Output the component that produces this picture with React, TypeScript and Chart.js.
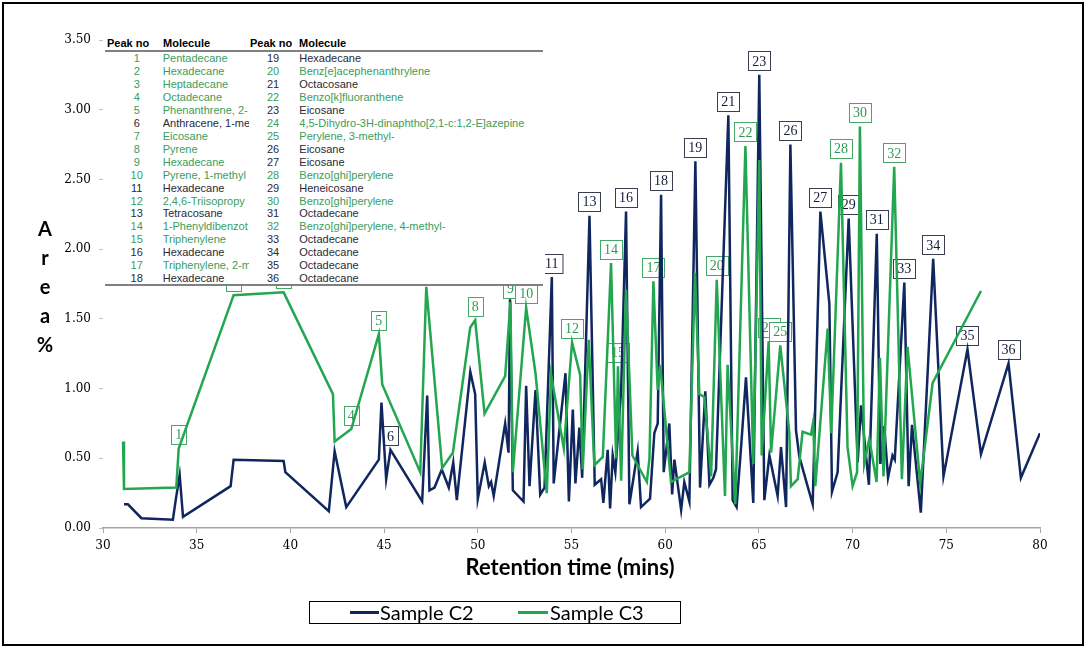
import React, { useEffect, useRef } from "react";
import { Chart, registerables } from "chart.js";

Chart.register(...registerables);

// ---------- DATA ----------
const c2X = [
  31.12, 31.33, 32.05, 33.73, 33.88, 34.09, 34.27, 36.81, 36.97, 39.64,
  39.73, 42.05, 42.36, 42.98, 44.72, 44.86, 45.11, 45.34, 47.03, 47.3,
  47.42, 47.69, 48.08, 48.45, 48.69, 48.88, 49.6, 49.86, 50.0, 50.37,
  50.59, 50.71, 50.85, 51.46, 51.64, 51.72, 51.87, 52.44, 52.58, 52.76,
  53.08, 53.33, 53.56, 53.95, 54.05, 54.68, 54.86, 55.07, 55.21, 55.42,
  55.57, 55.96, 56.24, 56.58, 56.7, 56.93, 57.06, 57.2, 57.34, 57.65,
  57.91, 58.09, 58.53, 58.71, 59.19, 59.42, 59.6, 59.78, 59.92, 60.22,
  60.37, 60.49, 60.85, 61.02, 61.29, 61.61, 61.86, 62.14, 62.36, 62.57,
  62.71, 63.37, 63.6, 63.81, 64.06, 64.31, 64.7, 65.02, 65.29, 65.56,
  66.0, 66.18, 66.45, 66.68, 66.98, 67.16, 67.87, 68.28, 68.76, 68.9,
  69.2, 69.79, 70.27, 70.45, 70.87, 71.29, 71.48, 71.69, 71.89, 72.13,
  72.25, 72.76, 72.99, 73.17, 73.64, 74.3, 74.85, 76.13, 76.85, 78.32,
  78.98, 80.0,
];
const c2Y = [
  0.17, 0.17, 0.07, 0.06, 0.2, 0.38, 0.08, 0.3, 0.49, 0.48,
  0.4, 0.12, 0.55, 0.15, 0.49, 0.9, 0.35, 0.56, 0.19, 0.95,
  0.27, 0.29, 0.42, 0.29, 0.47, 0.2, 1.12, 0.96, 0.21, 0.47,
  0.3, 0.33, 0.23, 0.75, 0.54, 1.64, 0.27, 0.19, 1.02, 0.3,
  0.99, 0.24, 0.29, 1.8, 0.32, 1.11, 0.19, 0.85, 0.32, 0.72,
  0.36, 2.24, 0.31, 0.35, 0.18, 0.56, 0.14, 0.52, 0.4, 0.99,
  2.27, 0.17, 0.55, 0.15, 0.21, 0.68, 0.75, 2.39, 0.4, 0.75,
  0.24, 0.49, 0.13, 0.33, 0.19, 2.63, 0.29, 0.98, 0.31, 0.36,
  0.42, 2.96, 0.2, 0.15, 0.6, 1.08, 0.18, 3.25, 0.2, 0.52,
  0.23, 0.58, 0.15, 2.75, 0.7, 0.51, 0.17, 2.27, 1.61, 0.26,
  0.4, 2.22, 0.47, 0.88, 0.31, 2.11, 0.46, 0.73, 0.36, 0.52,
  0.49, 1.76, 0.3, 0.74, 0.11, 1.93, 0.37, 1.28, 0.53, 1.18,
  0.36, 0.68,
];
const c3X = [
  31.07, 31.12, 33.91, 34.04, 36.97, 39.64, 42.27, 42.36, 43.25, 44.72,
  44.9, 46.93, 47.25, 48.1, 48.67, 49.6, 49.86, 50.36, 51.46, 51.74,
  51.87, 52.58, 53.08, 53.68, 53.91, 54.59, 55.03, 55.46, 55.6, 55.92,
  56.22, 56.67, 57.11, 57.38, 57.48, 57.65, 57.91, 58.25, 59.02, 59.16,
  59.37, 59.6, 59.73, 60.31, 61.29, 61.59, 61.82, 62.09, 62.45, 62.75,
  63.19, 63.33, 63.74, 64.28, 64.7, 65.02, 65.15, 65.52, 65.65, 66.14,
  66.62, 66.71, 67.07, 67.33, 67.78, 67.9, 68.01, 68.67, 68.86, 69.38,
  69.73, 70.0, 70.24, 70.39, 70.62, 70.89, 71.28, 71.46, 71.65, 72.22,
  72.63, 72.93, 73.61, 74.27, 76.85,
];
const c3Y = [
  0.62, 0.28, 0.29, 0.57, 1.67, 1.69, 0.96, 0.62, 0.71, 1.39,
  1.03, 0.4, 1.73, 0.43, 0.54, 1.44, 1.49, 0.82, 1.09, 1.62,
  0.4, 1.58, 1.11, 0.25, 1.1, 0.57, 1.33, 1.1, 0.42, 1.35,
  0.45, 0.51, 1.9, 0.5, 1.16, 0.34, 1.71, 0.52, 0.33, 0.5,
  1.77, 0.99, 1.17, 0.33, 0.4, 1.83, 0.96, 0.94, 0.37, 1.78,
  0.23, 1.17, 0.17, 2.74, 0.46, 2.64, 0.52, 1.34, 0.54, 1.31,
  0.69, 0.3, 0.35, 0.69, 0.67, 0.76, 0.3, 1.43, 0.68, 2.62,
  0.58, 0.3, 0.4, 2.88, 0.46, 0.64, 0.33, 1.22, 0.37, 2.59,
  0.35, 1.3, 0.32, 1.04, 1.7,
];

const peakNumbers = [
  1, 2, 3, 4, 5, 6, 7, 8, 9, 10, 11, 12, 13, 14, 15, 16, 17, 18,
  19, 20, 21, 22, 23, 24, 25, 26, 27, 28, 29, 30, 31, 32, 33, 34, 35, 36,
];
const peakSample = [
  "C3", "C3", "C3", "C3", "C3", "C2", "C3", "C3", "C3", "C3", "C2", "C3",
  "C2", "C3", "C3", "C2", "C3", "C2", "C2", "C3", "C2", "C3", "C2", "C3",
  "C3", "C2", "C2", "C3", "C2", "C3", "C2", "C3", "C2", "C2", "C2", "C2",
];
const peakX = [
  34.04, 36.97, 39.64, 43.25, 44.72, 45.34, 47.25, 49.86, 51.74, 52.58,
  53.95, 55.03, 55.96, 57.11, 57.48, 57.91, 59.37, 59.78, 61.61, 62.75,
  63.37, 64.28, 65.02, 65.52, 66.14, 66.68, 68.28, 69.38, 69.79, 70.39,
  71.29, 72.22, 72.76, 74.3, 76.13, 78.32,
];
const moleculeNames = [
  "Pentadecane", "Hexadecane", "Heptadecane", "Octadecane", "Phenanthrene, 2-",
  "Anthracene, 1-me", "Eicosane", "Pyrene", "Hexadecane", "Pyrene, 1-methyl",
  "Hexadecane", "2,4,6-Triisopropy", "Tetracosane", "1-Phenyldibenzot",
  "Triphenylene", "Hexadecane", "Triphenylene, 2-m", "Hexadecane",
  "Hexadecane", "Benz[e]acephenanthrylene", "Octacosane", "Benzo[k]fluoranthene",
  "Eicosane", "4,5-Dihydro-3H-dinaphtho[2,1-c:1,2-E]azepine", "Perylene, 3-methyl-",
  "Eicosane", "Eicosane", "Benzo[ghi]perylene", "Heneicosane", "Benzo[ghi]perylene",
  "Octadecane", "Benzo[ghi]perylene, 4-methyl-", "Octadecane", "Octadecane",
  "Octadecane", "Octadecane",
];
const seriesNames = ["Sample C2", "Sample C3"];
const xTitle = "Retention time (mins)";
const yTitleLetters = ["A", "r", "e", "a", "%"];

// ---------- STYLE ----------
const NAVY = "#10265f";
const GREEN = "#22a64f";
const GREEN_TEXT = "#3a9d5d";
const DARK_TEXT = "#2a2a35";

const peakLabelPlugin = {
  id: "peakLabels",
  beforeDatasetsDraw(chart: any) {
    const { ctx, scales } = chart;
    const xs = scales.x;
    const ys = scales.y;
    ctx.save();
    ctx.font = '14px "Liberation Serif", serif';
    ctx.textAlign = "center";
    ctx.textBaseline = "middle";
    peakNumbers.forEach((n, i) => {
      const isC2 = peakSample[i] === "C2";
      const sx = isC2 ? c2X : c3X;
      const sy = isC2 ? c2Y : c3Y;
      let best = 0;
      let bd = Infinity;
      for (let j = 0; j < sx.length; j++) {
        const d = Math.abs(sx[j] - peakX[i]);
        if (d < bd) {
          bd = d;
          best = j;
        }
      }
      const px = xs.getPixelForValue(sx[best]);
      const py = ys.getPixelForValue(sy[best]);
      const cy = py - 14;
      const text = String(n);
      const w = Math.max(14, ctx.measureText(text).width + 8);
      const h = 19;
      const left = Math.round(px - w / 2) + 0.5;
      const top = Math.round(cy - h / 2) + 0.5;
      ctx.fillStyle = "#ffffff";
      ctx.fillRect(left, top, w, h);
      ctx.lineWidth = 1;
      ctx.strokeStyle = isC2 ? "#3a3d52" : "#45a866";
      ctx.strokeRect(left, top, w, h);
      ctx.fillStyle = isC2 ? "#151b38" : "#2f9a55";
      ctx.fillText(text, px, cy + 1);
    });
    ctx.restore();
  },
};

export default function App() {
  const canvasRef = useRef<HTMLCanvasElement | null>(null);

  useEffect(() => {
    if (!canvasRef.current) return;
    const chart = new Chart(canvasRef.current, {
      type: "line",
      data: {
        datasets: [
          {
            label: seriesNames[0],
            data: c2X.map((x, i) => ({ x, y: c2Y[i] })),
            borderColor: NAVY,
            backgroundColor: NAVY,
            borderWidth: 2.5,
            pointRadius: 0,
            tension: 0,
            fill: false,
            order: 1,
          },
          {
            label: seriesNames[1],
            data: c3X.map((x, i) => ({ x, y: c3Y[i] })),
            borderColor: GREEN,
            backgroundColor: GREEN,
            borderWidth: 2.5,
            pointRadius: 0,
            tension: 0,
            fill: false,
            order: 0,
          },
        ],
      },
      options: {
        responsive: false,
        animation: false,
        layout: { padding: { left: 0, right: 46, top: 40, bottom: 0 } },
        plugins: {
          legend: { display: false },
          tooltip: { enabled: false },
          title: { display: false },
        },
        scales: {
          x: {
            type: "linear",
            min: 30,
            max: 80,
            ticks: {
              stepSize: 5,
              autoSkip: false,
              maxRotation: 0,
              padding: 6,
              color: "#000",
              font: { family: '"DejaVu Serif", serif', size: 12 },
            },
            grid: {
              display: true,
              drawOnChartArea: false,
              drawTicks: true,
              tickLength: 5,
              color: "#a6a6a6",
            },
            border: { display: true, color: "#a6a6a6", width: 1.5 },
            afterFit: (s: any) => {
              s.height = 120;
            },
          },
          y: {
            min: 0,
            max: 3.5,
            ticks: {
              stepSize: 0.5,
              padding: 8,
              color: "#000",
              font: { family: '"DejaVu Serif", serif', size: 12 },
              callback: (v: any) => Number(v).toFixed(2),
            },
            grid: {
              display: true,
              drawOnChartArea: false,
              drawTicks: true,
              tickLength: 4,
              color: "#bfbfbf",
            },
            border: { display: false },
            afterFit: (s: any) => {
              s.width = 103;
            },
          },
        },
      } as any,
      plugins: [peakLabelPlugin],
    });
    return () => chart.destroy();
  }, []);

  const rowTop = (i: number) => 58.7 + i * 12.94 - 6.5;
  const tableFont: React.CSSProperties = {
    position: "absolute",
    fontFamily: '"Liberation Sans", Arial, sans-serif',
    fontSize: 11,
    lineHeight: "13px",
    whiteSpace: "nowrap",
  };

  return (
    <div
      style={{
        position: "absolute",
        left: 0,
        top: 0,
        width: 1086,
        height: 648,
        background: "#ffffff",
        overflow: "hidden",
      }}
    >
      <canvas
        ref={canvasRef}
        width={1086}
        height={648}
        style={{ position: "absolute", left: 0, top: 0, width: 1086, height: 648 }}
      />

      {/* peak table */}
      <div
        style={{
          position: "absolute",
          left: 104,
          top: 37,
          width: 441,
          height: 248,
          background: "#ffffff",
        }}
      />
      <div style={{ ...tableFont, left: 107, top: 37, fontWeight: "bold", color: "#000" }}>Peak no</div>
      <div style={{ ...tableFont, left: 163, top: 37, fontWeight: "bold", color: "#000" }}>Molecule</div>
      <div style={{ ...tableFont, left: 250, top: 37, fontWeight: "bold", color: "#000" }}>Peak no</div>
      <div style={{ ...tableFont, left: 299, top: 37, fontWeight: "bold", color: "#000" }}>Molecule</div>
      <div style={{ position: "absolute", left: 105, top: 50, width: 438, height: 2, background: "#808080" }} />
      <div style={{ position: "absolute", left: 105, top: 284, width: 438, height: 2, background: "#808080" }} />
      {peakNumbers.map((n, i) => {
        const col = i < 18 ? 0 : 1;
        const r = i % 18;
        const color = peakSample[i] === "C3" ? GREEN_TEXT : DARK_TEXT;
        const numCenter = col === 0 ? 136.7 : 273;
        const molLeft = col === 0 ? 162.7 : 299.3;
        return (
          <React.Fragment key={n}>
            <div
              style={{
                ...tableFont,
                left: numCenter - 15,
                width: 30,
                textAlign: "center",
                top: rowTop(r),
                color,
              }}
            >
              {n}
            </div>
            <div
              style={{
                ...tableFont,
                left: molLeft,
                top: rowTop(r),
                color,
                width: col === 0 ? 86 : 240,
                overflow: "hidden",
              }}
            >
              {moleculeNames[i]}
            </div>
          </React.Fragment>
        );
      })}

      {/* axis titles */}
      <div
        style={{
          position: "absolute",
          left: 420,
          width: 300,
          top: 554,
          textAlign: "center",
          fontFamily: "Lato, sans-serif",
          fontWeight: "bold",
          fontSize: 22,
          lineHeight: "26px",
          color: "#000",
          whiteSpace: "nowrap",
        }}
      >
        {xTitle}
      </div>
      <div
        style={{
          position: "absolute",
          left: 30,
          width: 30,
          top: 214,
          textAlign: "center",
          fontFamily: "Lato, sans-serif",
          fontWeight: "bold",
          fontSize: 20,
          lineHeight: "29px",
          color: "#000",
        }}
      >
        {yTitleLetters.map((ch, i) => (
          <div key={i}>{ch}</div>
        ))}
      </div>

      {/* legend */}
      <div
        style={{
          position: "absolute",
          left: 309,
          top: 601,
          width: 372,
          height: 23,
          border: "1px solid #000",
          boxSizing: "border-box",
          background: "#fff",
        }}
      />
      <div style={{ position: "absolute", left: 350, top: 611, width: 29, height: 2.5, background: NAVY }} />
      <div
        style={{
          position: "absolute",
          left: 380,
          top: 600,
          fontFamily: "Lato, sans-serif",
          fontSize: 20,
          lineHeight: "24px",
          color: "#000",
          whiteSpace: "nowrap",
        }}
      >
        {seriesNames[0]}
      </div>
      <div style={{ position: "absolute", left: 518, top: 611, width: 30, height: 2.5, background: GREEN }} />
      <div
        style={{
          position: "absolute",
          left: 550,
          top: 600,
          fontFamily: "Lato, sans-serif",
          fontSize: 20,
          lineHeight: "24px",
          color: "#000",
          whiteSpace: "nowrap",
        }}
      >
        {seriesNames[1]}
      </div>

      {/* outer frame */}
      <div
        style={{
          position: "absolute",
          left: 2,
          top: 2,
          width: 1082,
          height: 644,
          border: "2px solid #000",
          boxSizing: "border-box",
          pointerEvents: "none",
        }}
      />
    </div>
  );
}
